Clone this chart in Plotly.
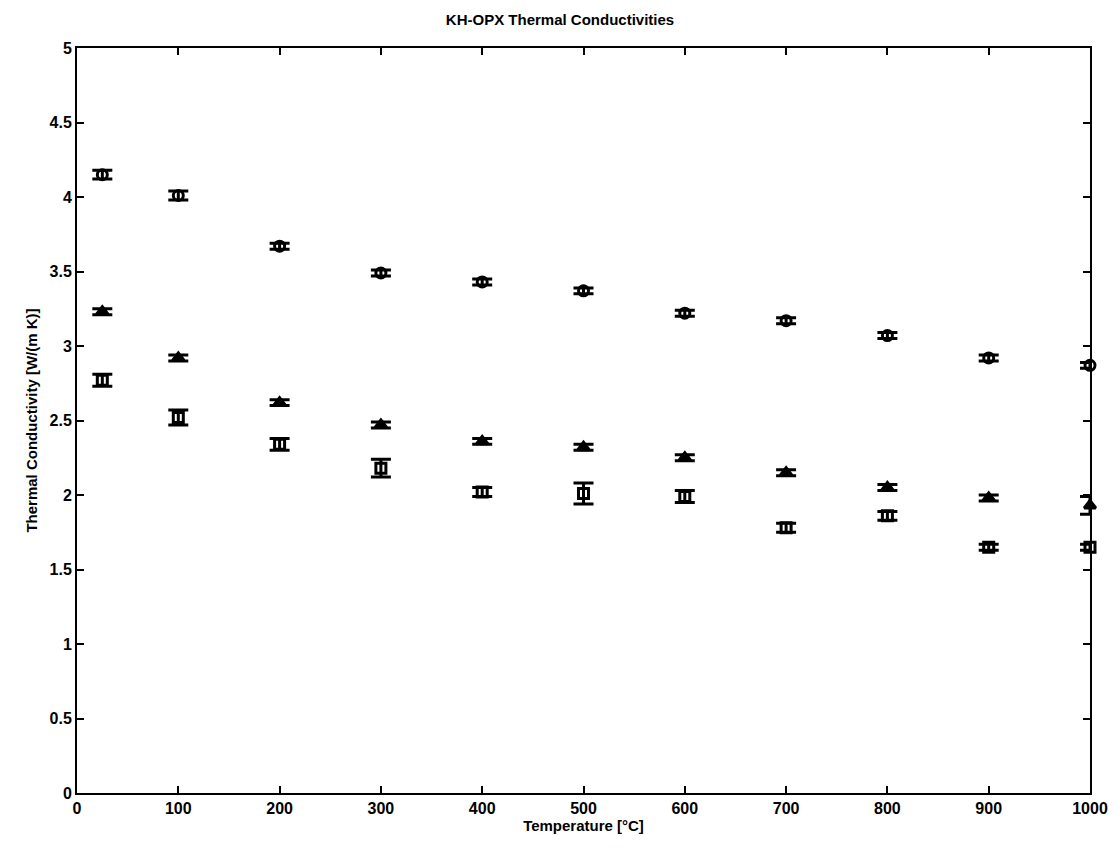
import plotly.graph_objects as go

temps = [25, 100, 200, 300, 400, 500, 600, 700, 800, 900, 1000]

circ_k = [4.15, 4.01, 3.67, 3.49, 3.43, 3.37, 3.22, 3.17, 3.07, 2.92, 2.87]
circ_err = [0.03, 0.03, 0.02, 0.02, 0.02, 0.02, 0.02, 0.02, 0.02, 0.02, 0.02]

tri_k = [3.23, 2.92, 2.62, 2.47, 2.36, 2.32, 2.25, 2.15, 2.05, 1.98, 1.93]
tri_err = [0.02, 0.02, 0.02, 0.02, 0.02, 0.02, 0.02, 0.02, 0.02, 0.02, 0.06]

sq_k = [2.77, 2.52, 2.34, 2.18, 2.02, 2.01, 1.99, 1.78, 1.86, 1.65, 1.65]
sq_err = [0.04, 0.05, 0.04, 0.06, 0.03, 0.07, 0.04, 0.03, 0.03, 0.02, 0.02]

x_ticks = [0, 100, 200, 300, 400, 500, 600, 700, 800, 900, 1000]
y_ticks = [0, 0.5, 1, 1.5, 2, 2.5, 3, 3.5, 4, 4.5, 5]
y_tick_text = ["0", "0.5", "1", "1.5", "2", "2.5", "3", "3.5", "4", "4.5", "5"]

FONT = "Liberation Sans"

fig = go.Figure()

def add_series(y, err, symbol):
    fig.add_trace(go.Scatter(
        x=temps, y=y, mode="markers",
        marker=dict(symbol=symbol, size=10, color="black",
                    line=dict(color="black", width=3)),
        error_y=dict(type="data", array=err, visible=True,
                     color="black", thickness=3, width=10),
        cliponaxis=False, showlegend=False,
    ))

add_series(circ_k, circ_err, "circle-open")
add_series(tri_k, tri_err, "triangle-up")
add_series(sq_k, sq_err, "square-open")

axis_common = dict(
    showline=True, linecolor="black", linewidth=2, mirror="allticks",
    ticks="inside", ticklen=7, tickwidth=1.5, tickcolor="black",
    showgrid=False, zeroline=False,
    tickfont=dict(family=FONT, size=16, color="black", weight="bold"),
)

fig.update_layout(
    width=1120, height=850,
    paper_bgcolor="white", plot_bgcolor="white",
    margin=dict(l=77, r=30, t=48, b=57),
    title=dict(text="KH-OPX Thermal Conductivities", x=0.5, xanchor="center",
               y=0.977, yanchor="middle",
               font=dict(family=FONT, size=15, color="black", weight="bold")),
    xaxis=dict(range=[0, 1000], tickvals=x_ticks,
               title=dict(text="Temperature [°C]", standoff=4,
                          font=dict(family=FONT, size=15, color="black", weight="bold")),
               **axis_common),
    yaxis=dict(range=[0, 5], tickvals=y_ticks, ticktext=y_tick_text,
               title=dict(text="Thermal Conductivity [W/(m K)]", standoff=8,
                          font=dict(family=FONT, size=15, color="black", weight="bold")),
               **axis_common),
)

fig.write_html("out.html")
